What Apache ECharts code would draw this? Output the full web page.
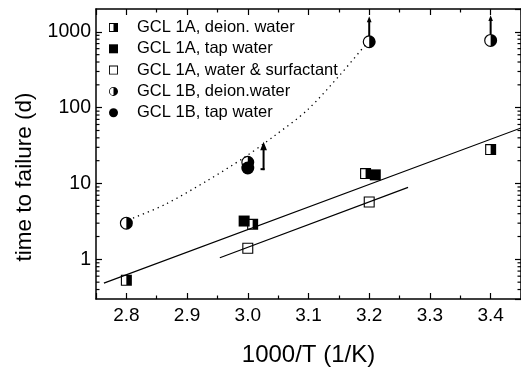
<!DOCTYPE html>
<html>
<head>
<meta charset="utf-8">
<script src="https://cdn.jsdelivr.net/npm/echarts@6/dist/echarts.min.js"></script>
<style>
  html, body { margin: 0; padding: 0; background: #fff; }
  #chart { width: 521px; height: 372px; }
</style>
</head>
<body>
<div id="chart"></div>
<script>
const FONT = '"Liberation Sans", Arial, sans-serif';

// axis ranges
const xMin = 2.75, xMax = 3.45;
const yMin = 0.3, yMax = 2000;
const yMinorTicks = [0.4, 0.5, 0.6, 0.7, 0.8, 0.9,
  2, 3, 4, 5, 6, 7, 8, 9,
  20, 30, 40, 50, 60, 70, 80, 90,
  200, 300, 400, 500, 600, 700, 800, 900];

const legendNames = [
  "GCL 1A, deion. water",
  "GCL 1A, tap water",
  "GCL 1A, water & surfactant",
  "GCL 1B, deion.water",
  "GCL 1B, tap water",
];

// measured points [1000/T, days]
const gcl1aDeion = [[2.8, 0.53], [3.008, 2.9], [3.194, 13.5], [3.4, 28]];
const gcl1aTap = [[2.994, 3.2], [3.21, 13]];
const gcl1aSurf = [[3.0, 1.4], [3.2, 5.7]];
const gcl1bDeion = [[2.8, 3.0], [3.0, 19], [3.2, 740], [3.4, 770]];
const gcl1bTap = [[3.0, 16]];

// fitted lines
const fit1a = [[2.763, 0.485], [3.45, 54]];
const fitSurf = [[2.954, 1.05], [3.264, 8.9]];
const curve1b = [[2.811, 3.5], [2.863, 5.25], [2.934, 11], [2.994, 22],
  [3.043, 42], [3.098, 93], [3.153, 277], [3.196, 710]];

// "still running" arrows
const arrowX = [3.026, 3.2, 3.4];
const arrowFrom = [15, 880, 925];
const arrowTo = [35.5, 1600, 1650];
const arrowFootX = [3.021, null, null];

// symbols: hole paths give the half-filled / open markers
const halfSquare = "path://M0,0 L10,0 L10,10 L0,10 Z M1,1 L1,9 L5,9 L5,1 Z";
const openSquare = "path://M0,0 L10,0 L10,10 L0,10 Z M1,1 L1,9 L9,9 L9,1 Z";
const halfCircle = "path://M10,0 A10,10 0 0,1 10,20 A10,10 0 0,1 10,0 Z M10,1.8 A8.2,8.2 0 0,0 10,18.2 Z";

const chart = echarts.init(document.getElementById("chart"));

const axisLine = { show: true, onZero: false, lineStyle: { color: "#000", width: 1.5 } };
const tick = { show: true, inside: true, length: 6, lineStyle: { color: "#000", width: 1.2 } };
const minorTick = { show: true, splitNumber: 2, length: 3.5, lineStyle: { color: "#000", width: 1.2 } };

function scatter(name, data, symbol, size) {
  return {
    name: name,
    type: "scatter",
    data: data,
    symbol: symbol,
    symbolSize: size,
    itemStyle: { color: "#000", opacity: 1 },
    z: 4,
  };
}

chart.setOption({
  animation: false,
  backgroundColor: "#fff",
  textStyle: { fontFamily: FONT, color: "#000" },
  grid: { left: 96, top: 9, width: 427, height: 297 },
  legend: {
    orient: "vertical",
    left: 109,
    top: 19,
    padding: 0,
    itemWidth: 9,
    itemHeight: 9,
    itemGap: 4.3,
    selectedMode: false,
    data: legendNames,
    textStyle: { fontFamily: FONT, fontSize: 16.5, lineHeight: 16, color: "#000", padding: [0, 0, 0, 14] },
  },
  xAxis: [
    {
      type: "value",
      min: xMin,
      max: xMax,
      position: "bottom",
      name: "1000/T (1/K)",
      nameLocation: "middle",
      nameGap: 44,
      nameTextStyle: { fontFamily: FONT, fontSize: 24, color: "#000" },
      axisLine: axisLine,
      axisTick: tick,
      minorTick: minorTick,
      splitLine: { show: false },
      axisLabel: {
        fontFamily: FONT,
        fontSize: 19,
        color: "#000",
        margin: 7,
        showMinLabel: false,
        showMaxLabel: false,
        formatter: (v) => v.toFixed(1),
      },
    },
    {
      type: "value",
      min: xMin,
      max: xMax,
      position: "top",
      axisLine: axisLine,
      axisTick: tick,
      minorTick: minorTick,
      splitLine: { show: false },
      axisLabel: { show: false },
    },
  ],
  yAxis: [
    {
      type: "log",
      logBase: 10,
      min: yMin,
      max: yMax,
      position: "left",
      name: "time to failure (d)",
      nameLocation: "middle",
      nameGap: 59,
      nameTextStyle: { fontFamily: FONT, fontSize: 22.5, color: "#000", padding: [0, 46, 0, 0] },
      axisLine: axisLine,
      axisTick: tick,
      splitLine: { show: false },
      axisLabel: {
        fontFamily: FONT,
        fontSize: 19.5,
        color: "#000",
        margin: 5,
        showMinLabel: false,
        showMaxLabel: false,
        formatter: (v) => (v >= 1 ? String(Math.round(v)) : String(v)),
      },
    },
    {
      type: "log",
      logBase: 10,
      min: yMin,
      max: yMax,
      position: "right",
      axisLine: axisLine,
      axisTick: tick,
      splitLine: { show: false },
      axisLabel: { show: false },
    },
  ],
  series: [
    {
      type: "custom",
      silent: true,
      data: yMinorTicks.map((v) => [xMin, v]),
      renderItem: (params, api) => {
        const v = api.value(1);
        const l = api.coord([xMin, v]);
        const r = api.coord([xMax, v]);
        const st = { stroke: "#000", lineWidth: 1.2 };
        return {
          type: "group",
          children: [
            { type: "line", shape: { x1: l[0], y1: l[1], x2: l[0] + 3.5, y2: l[1] }, style: st },
            { type: "line", shape: { x1: r[0] - 3.5, y1: r[1], x2: r[0], y2: r[1] }, style: st },
          ],
        };
      },
      z: 3,
    },
    {
      type: "line",
      data: fit1a,
      showSymbol: false,
      silent: true,
      lineStyle: { color: "#000", width: 1.2 },
      z: 2,
    },
    {
      type: "line",
      data: fitSurf,
      showSymbol: false,
      silent: true,
      lineStyle: { color: "#000", width: 1.2 },
      z: 2,
    },
    {
      type: "line",
      data: curve1b,
      smooth: 0.3,
      showSymbol: false,
      silent: true,
      lineStyle: { color: "#000", width: 1.3, type: [1.3, 4] },
      z: 2,
    },
    {
      type: "custom",
      silent: true,
      data: arrowX.map((x, i) => [x, arrowFrom[i], arrowTo[i], arrowFootX[i]]),
      renderItem: (params, api) => {
        const x = api.value(0);
        const p0 = api.coord([x, api.value(1)]);
        const p1 = api.coord([x, api.value(2)]);
        const len = p0[1] - p1[1];
        const head = Math.min(10, len * 0.3);
        const hw = head * 0.4;
        const children = [
          {
            type: "line",
            shape: { x1: p0[0], y1: p0[1], x2: p1[0], y2: p1[1] + head * 0.8 },
            style: { stroke: "#000", lineWidth: 2 },
          },
          {
            type: "polygon",
            shape: { points: [[p1[0], p1[1]], [p1[0] - hw, p1[1] + head], [p1[0] + hw, p1[1] + head]] },
            style: { fill: "#000" },
          },
        ];
        const fx = api.value(3);
        if (isFinite(fx)) {
          const f = api.coord([fx, api.value(1)]);
          children.push({
            type: "line",
            shape: { x1: f[0], y1: p0[1] - 1, x2: p0[0] + 1, y2: p0[1] - 1 },
            style: { stroke: "#000", lineWidth: 2 },
          });
        }
        return { type: "group", children: children };
      },
      z: 3,
    },
    scatter(legendNames[0], gcl1aDeion, halfSquare, 11),
    scatter(legendNames[1], gcl1aTap, "rect", 11),
    scatter(legendNames[2], gcl1aSurf, openSquare, 11),
    scatter(legendNames[3], gcl1bDeion, halfCircle, 13),
    scatter(legendNames[4], gcl1bTap, "circle", 13),
  ],
});
</script>
</body>
</html>
